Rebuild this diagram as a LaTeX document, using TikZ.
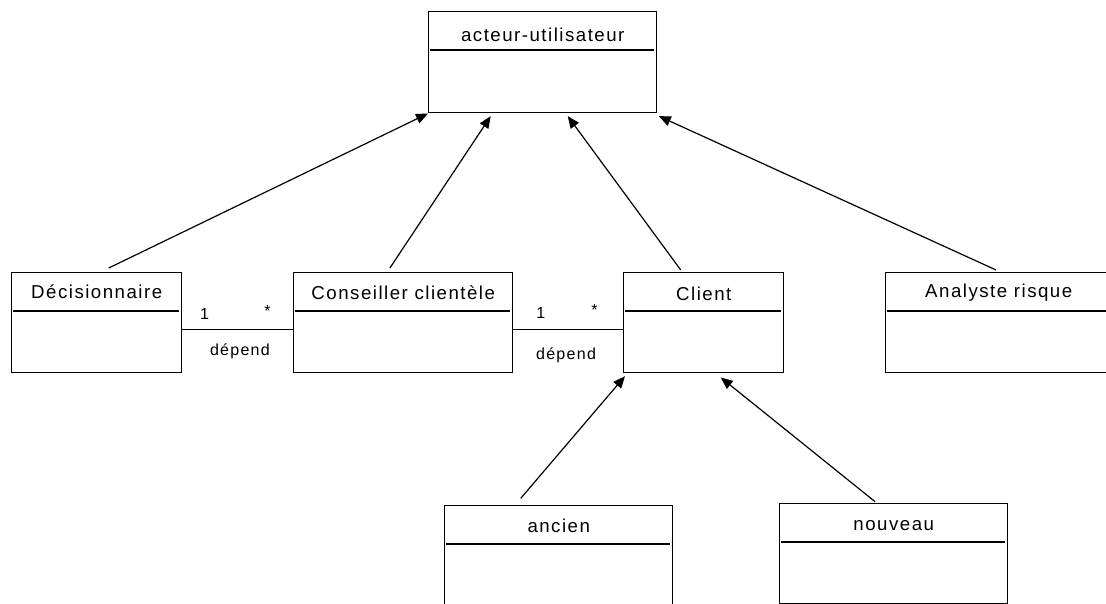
\documentclass[tikz,border=0pt]{standalone}
\usepackage{fontspec}
\setmainfont{Liberation Sans}[LetterSpace=8]
\usetikzlibrary{arrows.meta}
\usetikzlibrary{calc}

\tikzset{
  classe/.style={draw, line width=1.1pt, inner sep=0pt, anchor=north west, minimum height=75pt},
  titre/.style={font=\fontsize{14}{16}\selectfont, anchor=base, inner sep=0pt},
  petit/.style={font=\fontsize{12}{14}\selectfont, inner sep=0pt},
  herite/.style={-{Triangle[length=9pt,width=7.5pt]}, line width=0.9pt},
  lien/.style={line width=0.9pt},
}

\begin{document}
\begin{tikzpicture}[x=0.75pt,y=-0.75pt]
    \useasboundingbox (0,0) rectangle (1106,603);
    \clip (0,0) rectangle (1106,603);

    % les classes
    \node [classe, minimum width=171pt, minimum height=75.75pt] (acteur) at (428,11) {};
    \node [classe, minimum width=127.5pt] (decision) at (11,272) {};
    \node [classe, minimum width=164.25pt] (conseiller) at (293,272) {};
    \node [classe, minimum width=120pt] (client) at (623,272) {};
    \node [classe, minimum width=169.5pt] (analyste) at (885,272) {};
    \node [classe, minimum width=171pt] (ancien) at (444,505) {};
    \node [classe, minimum width=171pt] (nouveau) at (779,503) {};

    \foreach \b/\t/\d in {acteur/acteur-utilisateur/30, decision/Décisionnaire/26,
                          conseiller/Conseiller clientèle/27, client/Client/28,
                          analyste/Analyste risque/25, ancien/ancien/27, nouveau/nouveau/27}
    {
        \node [titre] (t-\b) at ($(\b.north)+(0,\d)$) {\t};
        \draw [line width=1.1pt] ($(\b.north west)+(2,39)$) -- ($(\b.north east)+(-3,39)$);
    }

    % heritage
    \draw [herite] ([xshift=9pt,yshift=3pt]decision.north) -- (acteur.south west);
    \draw [herite] ([xshift=-10pt,yshift=3pt]conseiller.north) -- ([xshift=-39pt,yshift=-2pt]acteur.south);
    \draw [herite] ([xshift=-17.25pt,yshift=1.5pt]client.north) -- ([xshift=18.75pt,yshift=-2pt]acteur.south);
    \draw [herite] ([xshift=-2pt,yshift=1.5pt]analyste.north) -- ([xshift=1pt,yshift=-2pt]acteur.south east);
    \draw [herite] ([xshift=-28.5pt,yshift=5pt]ancien.north) -- ([xshift=1.5pt,yshift=-2pt]client.south west);
    \draw [herite] ([xshift=-14pt,yshift=1pt]nouveau.north) -- ([xshift=12.75pt,yshift=-3pt]client.south);

    % associations
    \draw [lien] ([yshift=-5.25pt]decision.east) -- ([yshift=-5.25pt]conseiller.west)
        node [petit, pos=0.2, yshift=12pt] (m1) {1}
        node [petit, pos=0.77, yshift=14pt] (e1) {*}
        node [petit, pos=0.52, yshift=-16.5pt] (d1) {dépend};
    \draw [lien] ([yshift=-5.25pt]conseiller.east) -- ([yshift=-5.25pt]client.west)
        node [petit, pos=0.25, yshift=12.75pt] (m2) {1}
        node [petit, pos=0.74, yshift=15pt] (e2) {*}
        node [petit, pos=0.48, yshift=-19.5pt] (d2) {dépend};
\end{tikzpicture}
\end{document}
